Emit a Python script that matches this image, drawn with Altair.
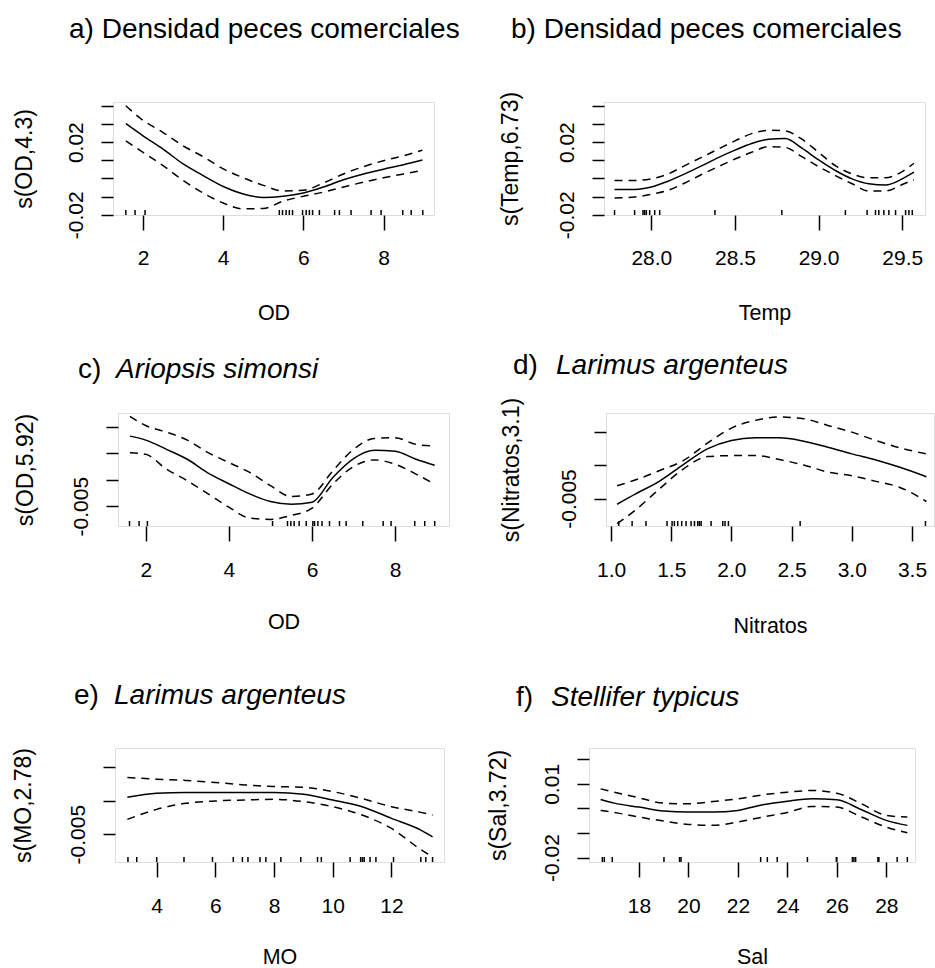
import altair as alt
import pandas as pd

FONT = "Liberation Sans"

# ---------------- panel a : OD ----------------
a_x = [1.57, 2.0, 2.5, 3.0, 3.5, 4.0, 4.5, 5.0, 5.5, 6.0, 6.5, 7.0, 7.5, 8.0, 8.5, 8.97]
a_fit = [0.0302, 0.0235, 0.0162, 0.0080, 0.0016, -0.0044, -0.0085, -0.0105, -0.0098, -0.0080,
         -0.0047, -0.0007, 0.0025, 0.0051, 0.0076, 0.0102]
a_upper = [0.0400, 0.0320, 0.0253, 0.0180, 0.0120, 0.0053, 0.0004, -0.0038, -0.0069, -0.0065,
           -0.0025, 0.0025, 0.0065, 0.0098, 0.0125, 0.0156]
a_lower = [0.0207, 0.0144, 0.0071, -0.0011, -0.0080, -0.0135, -0.0167, -0.0165, -0.0124, -0.0098,
           -0.0075, -0.0047, -0.0020, 0.0004, 0.0025, 0.0044]
a_rug = [1.57, 1.80, 2.05, 5.40, 5.48, 5.57, 5.65, 5.73, 5.98, 6.07, 6.15, 6.23, 6.40, 6.78,
         6.90, 7.19, 7.69, 7.94, 8.48, 8.69, 8.98]

# ---------------- panel b : Temp ----------------
b_x = [27.78, 27.9, 28.0, 28.1, 28.2, 28.3, 28.4, 28.5, 28.6, 28.7, 28.8, 28.9, 29.0, 29.1,
       29.2, 29.3, 29.4, 29.5, 29.57]
b_fit = [-0.0060, -0.0060, -0.0047, -0.0015, 0.0025, 0.0069, 0.0115, 0.0156, 0.0193, 0.0216,
         0.0220, 0.0167, 0.0102, 0.0044, -0.0002, -0.0029, -0.0036, -0.0002, 0.0035]
b_upper = [-0.0011, -0.0011, -0.0002, 0.0025, 0.0071, 0.0116, 0.0162, 0.0207, 0.0247, 0.0265,
           0.0262, 0.0216, 0.0144, 0.0071, 0.0025, 0.0004, 0.0004, 0.0038, 0.0084]
b_lower = [-0.0107, -0.0102, -0.0087, -0.0065, -0.0025, 0.0022, 0.0065, 0.0107, 0.0144, 0.0175,
           0.0171, 0.0120, 0.0065, 0.0016, -0.0029, -0.0069, -0.0069, -0.0033, -0.0007]
b_rug = [27.78, 27.90, 27.95, 27.96, 27.97, 27.99, 28.02, 28.05, 28.38, 28.78, 29.16, 29.29,
         29.34, 29.36, 29.39, 29.42, 29.46, 29.52, 29.54, 29.56]

# ---------------- panel c : OD (Ariopsis) ----------------
c_x = [1.62, 2.0, 2.5, 3.0, 3.5, 4.0, 4.5, 5.0, 5.5, 6.0, 6.5, 7.0, 7.5, 8.0, 8.5, 8.95]
c_fit = [0.00823, 0.00748, 0.00574, 0.00386, 0.00124, -0.00076, -0.00269, -0.00413, -0.00463,
         -0.00425, 0.00043, 0.00399, 0.00555, 0.00536, 0.00386, 0.00274]
c_upper = [0.01198, 0.01023, 0.00898, 0.00748, 0.00511, 0.00324, 0.00137, -0.00113, -0.00319,
           -0.00269, 0.00168, 0.00574, 0.00780, 0.00792, 0.00667, 0.00636]
c_lower = [0.00511, 0.00480, 0.00199, -0.00019, -0.00269, -0.00519, -0.00725, -0.00750, -0.00675,
           -0.00537, -0.00082, 0.00249, 0.00374, 0.00293, 0.00105, -0.00082]
c_rug = [1.61, 1.84, 2.04, 5.05, 5.41, 5.49, 5.57, 5.69, 5.86, 6.02, 6.06, 6.14, 6.24, 6.42,
         6.66, 6.82, 7.22, 7.71, 7.90, 8.47, 8.71, 8.95]

# ---------------- panel d : Nitratos ----------------
d_x = [1.05, 1.2, 1.4, 1.6, 1.8, 2.0, 2.2, 2.4, 2.6, 2.8, 3.0, 3.2, 3.4, 3.62]
d_fit = [-0.00586, -0.00434, -0.00242, 0.00010, 0.00247, 0.00374, 0.00414, 0.00414, 0.00364,
         0.00273, 0.00172, 0.00081, -0.00030, -0.00172]
d_upper = [-0.00308, -0.00222, -0.00081, 0.00071, 0.00333, 0.00561, 0.00677, 0.00727, 0.00702,
           0.00601, 0.00500, 0.00374, 0.00263, 0.00172]
d_lower = [-0.00879, -0.00677, -0.00359, -0.00056, 0.00131, 0.00146, 0.00146, 0.00086, 0.00005,
           -0.00101, -0.00157, -0.00242, -0.00333, -0.00545]
d_rug = [1.064, 1.175, 1.29, 1.465, 1.507, 1.526, 1.554, 1.587, 1.623, 1.665, 1.693, 1.72,
         1.734, 1.748, 1.831, 1.928, 1.947, 1.975, 2.571, 3.612]

# ---------------- panel e : MO ----------------
e_x = [3.0, 4.0, 5.0, 6.0, 7.0, 8.0, 9.0, 10.0, 11.0, 12.0, 13.0, 13.4]
e_fit = [0.0005, 0.0011, 0.0012, 0.0012, 0.0012, 0.0012, 0.00095, 0.0001, -0.0009, -0.00265,
         -0.0044, -0.0054]
e_upper = [0.00345, 0.0032, 0.0030, 0.0027, 0.00235, 0.0021, 0.0020, 0.00135, 0.0003, -0.0009,
           -0.00175, -0.00215]
e_lower = [-0.0028, -0.0013, -0.0004, -0.00005, 0.0001, 0.0002, -0.00015, -0.0009, -0.00215,
           -0.00415, -0.0073, -0.0084]
e_rug = [3.02, 3.32, 4.0, 4.93, 5.9, 6.61, 6.92, 7.11, 7.52, 7.72, 8.23, 8.91, 9.48, 9.61,
         10.59, 10.95, 11.01, 11.07, 11.27, 11.47, 12.07, 13.0, 13.17, 13.4]

# ---------------- panel f : Sal ----------------
f_x = [16.45, 17, 18, 19, 20, 21, 22, 23, 24, 25, 26, 27, 28, 28.85]
f_fit = [0.00365, 0.00216, 0.00054, -0.00108, -0.00149, -0.00149, -0.00081, 0.00149, 0.00297,
         0.00392, 0.00351, -0.00054, -0.00486, -0.00689]
f_upper = [0.00797, 0.00662, 0.00432, 0.00216, 0.00189, 0.00284, 0.00392, 0.00554, 0.00662,
           0.00730, 0.00622, 0.00189, -0.00284, -0.00351]
f_lower = [-0.00081, -0.00162, -0.00351, -0.00513, -0.00649, -0.00689, -0.00554, -0.00351,
           -0.00162, 0.00081, 0.00054, -0.00351, -0.00757, -0.00986]
f_rug = [16.52, 16.60, 16.92, 19.01, 19.64, 19.70, 22.92, 23.19, 23.59, 24.81, 25.98, 26.0,
         26.63, 26.69, 26.76, 27.66, 27.70, 28.44, 28.85]

# ---------------- titles / axes text ----------------
titles = {
    "a": ("a) Densidad peces comerciales", ""),
    "b": ("b) Densidad peces comerciales", ""),
    "c": ("c)", "Ariopsis simonsi"),
    "d": ("d)", "Larimus argenteus"),
    "e": ("e)", "Larimus argenteus"),
    "f": ("f)", "Stellifer typicus"),
}
x_titles = {"a": "OD", "b": "Temp", "c": "OD", "d": "Nitratos", "e": "MO", "f": "Sal"}
y_titles = {"a": "s(OD,4.3)", "b": "s(Temp,6.73)", "c": "s(OD,5.92)", "d": "s(Nitratos,3.1)",
            "e": "s(MO,2.78)", "f": "s(Sal,3.72)"}

x_ticks = {"a": [2, 4, 6, 8], "b": [28.0, 28.5, 29.0, 29.5], "c": [2, 4, 6, 8],
           "d": [1.0, 1.5, 2.0, 2.5, 3.0, 3.5], "e": [4, 6, 8, 10, 12],
           "f": [18, 20, 22, 24, 26, 28]}
x_formats = {"a": "d", "b": ".1f", "c": "d", "d": ".1f", "e": "d", "f": "d"}
y_ticks = {"a": [-0.02, -0.01, 0, 0.01, 0.02, 0.03, 0.04],
           "b": [-0.02, -0.01, 0, 0.01, 0.02, 0.03, 0.04],
           "c": [-0.005, 0, 0.005, 0.01], "d": [-0.005, 0, 0.005], "e": [-0.005, 0, 0.005],
           "f": [-0.02, -0.01, 0, 0.01, 0.02]}
y_shown = {"a": [(-0.02, "-0.02"), (0.02, "0.02")], "b": [(-0.02, "-0.02"), (0.02, "0.02")],
           "c": [(-0.005, "-0.005")], "d": [(-0.005, "-0.005")], "e": [(-0.005, "-0.005")],
           "f": [(0.01, "0.01"), (-0.02, "-0.02")]}

# layout (pixels)
spec = {
    "a": dict(w=321, h=113, xdom=[1.25, 9.26], ydom=[-0.0201, 0.0421], lp=17, tx=-82, ty=104, t=(-44, 0, -64)),
    "b": dict(w=321, h=113, xdom=[27.717, 29.636], ydom=[-0.0201, 0.0421], lp=17, tx=-87, ty=104, t=(-93, 0, -64)),
    "c": dict(w=331, h=113, xdom=[1.333, 9.294], ydom=[-0.00875, 0.0126], lp=18, tx=-86, ty=102, t=(-40, -2, -35)),
    "d": dict(w=328, h=113, xdom=[0.958, 3.683], ydom=[-0.00914, 0.00788], lp=18, tx=-88, ty=106, t=(-93, -50, -39)),
    "e": dict(w=329, h=114, xdom=[2.579, 13.79], ydom=[-0.00915, 0.00785], lp=18, tx=-85, ty=101, t=(-41, -1, -44)),
    "f": dict(w=326, h=114, xdom=[15.98, 29.16], ydom=[-0.0218, 0.0246], lp=18, tx=-84, ty=101, t=(-73, -38, -42)),
}

data = {
    "a": (a_x, a_fit, a_upper, a_lower, a_rug),
    "b": (b_x, b_fit, b_upper, b_lower, b_rug),
    "c": (c_x, c_fit, c_upper, c_lower, c_rug),
    "d": (d_x, d_fit, d_upper, d_lower, d_rug),
    "e": (e_x, e_fit, e_upper, e_lower, e_rug),
    "f": (f_x, f_fit, f_upper, f_lower, f_rug),
}


def label_expr(pairs):
    parts = [f"datum.value == {v} ? '{s}'" for v, s in pairs]
    return " : ".join(parts) + " : ''"


def panel(key):
    s = spec[key]
    xs, fit, up, lo, rug = data[key]
    W, H = s["w"], s["h"]
    xaxis = alt.Axis(values=x_ticks[key], format=x_formats[key], grid=False, domain=False,
                     tickSize=15, tickWidth=1.5, tickColor="black",
                     labelFont=FONT, labelFontSize=21, labelColor="black",
                     labelPadding=s["lp"], labelFlush=False, labelOverlap=False,
                     title=x_titles[key], titleFont=FONT, titleFontSize=21.5,
                     titleFontWeight="normal", titleColor="black",
                     titleX=W / 2, titleY=s["ty"], titleAlign="center",
                     titleBaseline="alphabetic")
    yaxis = alt.Axis(values=y_ticks[key], grid=False, domain=False,
                     tickSize=12, tickWidth=1.5, tickColor="black",
                     labelExpr=label_expr(y_shown[key]),
                     labelFont=FONT, labelFontSize=21, labelColor="black",
                     labelAngle=270, labelAlign="center", labelBaseline="alphabetic",
                     labelPadding=19, labelOverlap=False, labelFlush=False,
                     title=y_titles[key], titleFont=FONT, titleFontSize=23,
                     titleFontWeight="normal", titleColor="black",
                     titleAngle=270, titleX=s["tx"], titleY=H / 2,
                     titleAlign="center", titleBaseline="alphabetic")
    X = alt.X("x:Q", scale=alt.Scale(domain=s["xdom"], nice=False, zero=False), axis=xaxis)
    Y = alt.Y("y:Q", scale=alt.Scale(domain=s["ydom"], nice=False, zero=False), axis=yaxis)

    fit_df = pd.DataFrame({"x": xs, "y": fit})
    band_df = pd.DataFrame({"x": xs + xs, "y": up + lo,
                            "s": ["upper"] * len(xs) + ["lower"] * len(xs)})
    rug_df = pd.DataFrame({"x": rug})

    fit_l = alt.Chart(fit_df).mark_line(color="black", strokeWidth=1.5,
                                        interpolate="monotone").encode(x=X, y=Y)
    band_l = alt.Chart(band_df).mark_line(color="black", strokeWidth=1.5, interpolate="monotone",
                                          strokeDash=[8, 6]).encode(x=X, y=Y, detail="s:N")
    rug_l = alt.Chart(rug_df).mark_rule(color="black", strokeWidth=1.5).encode(
        x=X, y=alt.value(H), y2=alt.value(H - 5))

    lab, sp = titles[key]
    tx_lab, tx_sp, tbase = s["t"]
    layers = [band_l, fit_l, rug_l,
              alt.Chart(pd.DataFrame({"t": [lab]})).mark_text(
                  align="left", baseline="alphabetic", font=FONT, fontSize=28,
                  color="black").encode(text="t:N", x=alt.value(tx_lab), y=alt.value(tbase))]
    if sp:
        layers.append(alt.Chart(pd.DataFrame({"t": [sp]})).mark_text(
            align="left", baseline="alphabetic", font=FONT, fontSize=28, fontStyle="italic",
            color="black").encode(text="t:N", x=alt.value(tx_sp), y=alt.value(tbase)))
    return alt.layer(*layers).properties(width=W, height=H)


def spacer(w, h):
    return alt.Chart(pd.DataFrame({"v": [0]})).mark_point(opacity=0).encode(
        x=alt.value(1), y=alt.value(1)).properties(
        width=w, height=h, view=alt.ViewBackground(stroke="transparent"))


row1 = alt.hconcat(panel("a"), panel("b"), spacing=170, bounds="flush")
row2 = alt.hconcat(spacer(5, 113),
                   alt.hconcat(panel("c"), panel("d"), spacing=157, bounds="flush"),
                   spacing=0, bounds="flush")
row3 = alt.hconcat(spacer(2, 114),
                   alt.hconcat(panel("e"), panel("f"), spacing=145, bounds="flush"),
                   spacing=0, bounds="flush")

# with flush bounds, nested concat groups count as zero-height, so the spacing
# values are the distances between the tops of consecutive rows
chart = alt.vconcat(
    row1,
    alt.vconcat(row2, row3, spacing=335, bounds="flush"),
    spacing=311, bounds="flush",
    padding={"left": 11, "top": 15, "right": 0, "bottom": 0},
).configure_view(stroke="black", strokeWidth=1.8).configure(background="white")

chart.save("out.html", embed_options={"renderer": "svg", "actions": False})
